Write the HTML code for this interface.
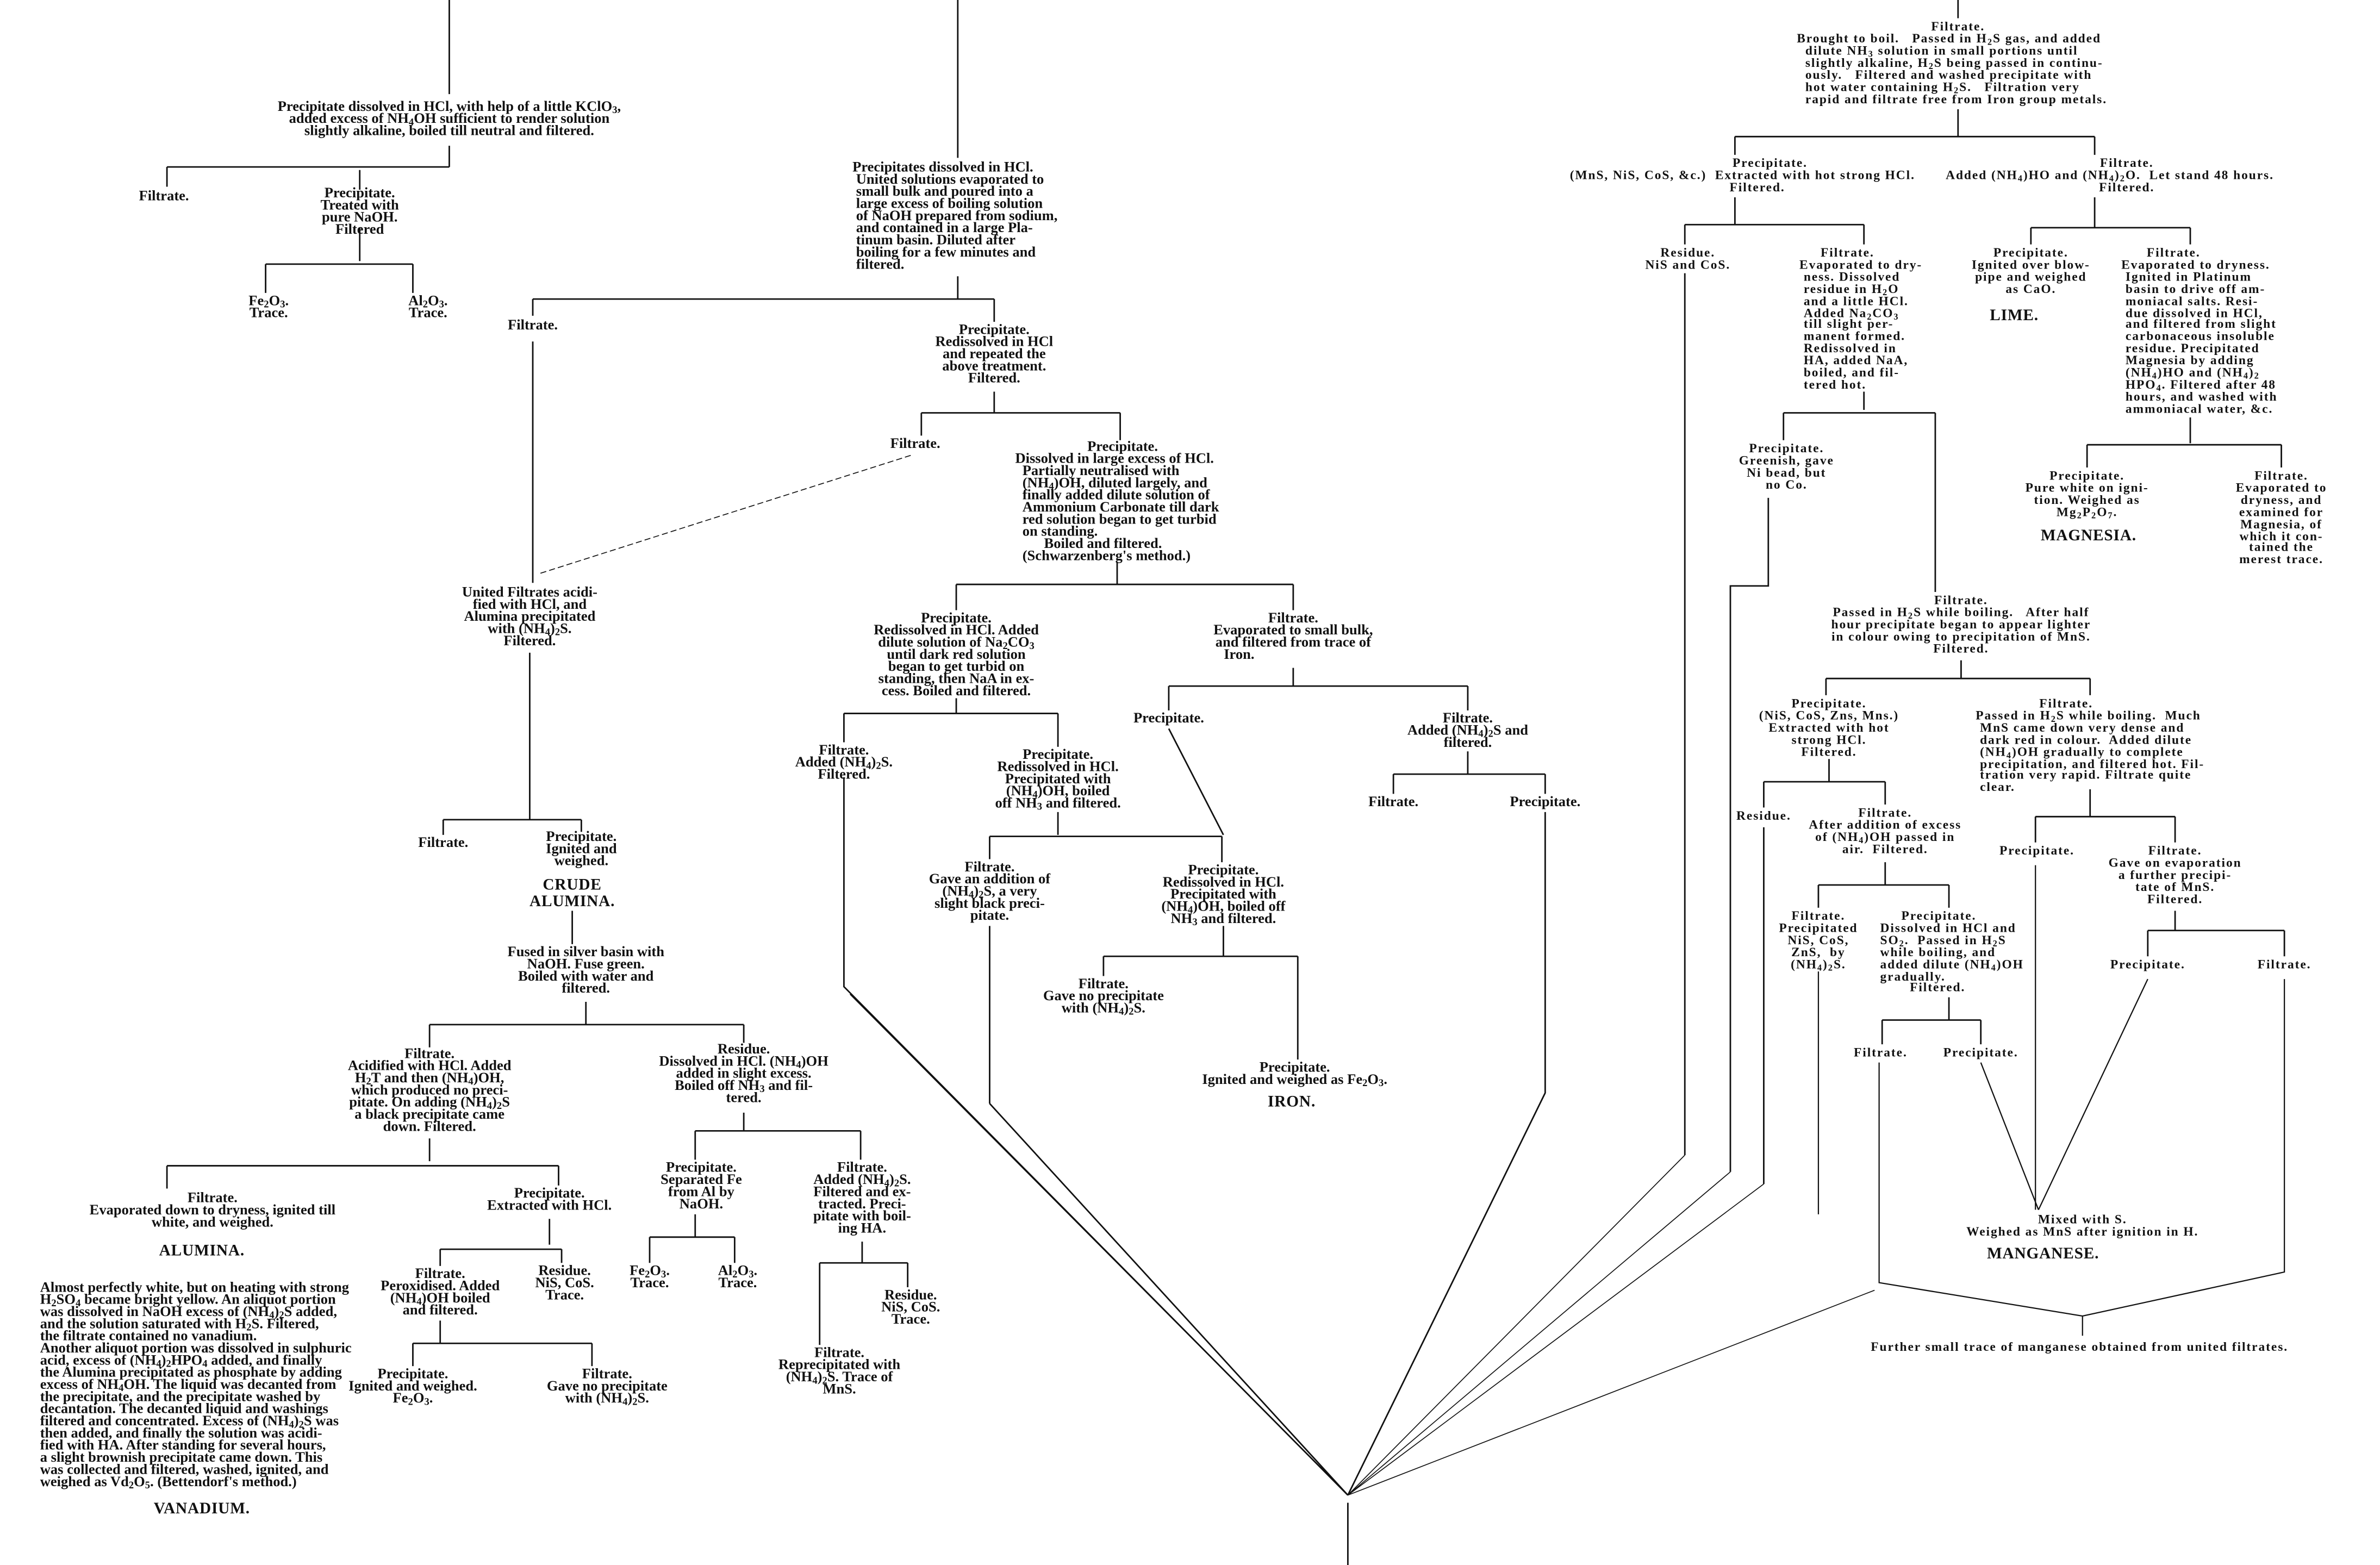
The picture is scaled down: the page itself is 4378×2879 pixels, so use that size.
<!DOCTYPE html>
<html><head><meta charset="utf-8"><style>
html,body{margin:0;padding:0;background:#fff;}
body{width:4378px;height:2879px;overflow:hidden;position:relative;}
#c{position:absolute;left:0;top:0;width:1568px;height:1031px;transform:scale(2.7921,2.7924);transform-origin:0 0;}
.t{position:absolute;transform:translateX(-50%);white-space:nowrap;text-align:center;color:#111;
font-family:"Liberation Serif",serif;font-weight:bold;font-size:9.5px;line-height:8px;letter-spacing:0px;}
.r{letter-spacing:0.7px;font-size:8.4px;line-height:7.9px;}
.h{font-size:10.5px;letter-spacing:0.3px;line-height:10.5px;}
.l{text-align:left;}
sub{font-size:70%;vertical-align:-1.5px;line-height:0;}
svg{position:absolute;left:0;top:0;}
</style></head><body><div id="c">
<svg width="1568" height="1031" viewBox="0 0 1568 1031" fill="none" stroke="#111" stroke-width="1">
<path d="M296 0V62M296 96V110M110 110H296M110 110V123M237 112V125M237 150V172M175 174H272M175 174V193M272 174V193"/>
<path d="M631 0V104M631 182V197M351 197H655M351 197V208M351 225V384M655 197V212M655 258V272M607 272H738M607 272V287M738 272V290"/>
<path d="M600 300L355 378" stroke-width="0.6" stroke-dasharray="4 2"/>
<path d="M349 430V540M292 540H383M292 540V550M383 540V548M377 600V622M386 660V675M283 675H490M283 675V690M490 675V687"/>
<path d="M283 750V765M110 768H368M110 768V783M368 768V781M362 803V820M290 823H370M290 823V834M370 823V832M290 870V885M272 885H390M272 885V900M390 885V900"/>
<path d="M490 733V745M458 745H567M458 745V764M567 745V764M458 800V815M428 815H484M428 815V832M484 815V832M568 818V832M540 832H598M540 832V886M598 832V848"/>
<path d="M736 370V385M630 385H852M630 385V402M852 385V402M630 460V470M556 470H697M556 470V489M697 470V492"/>
<path d="M697 535V550M652 551H805M652 551V566M805 551V568M806 610V630M727 630H855M727 630V643M855 630V698M652 610V727"/>
<path d="M852 440V452M770 452H967M770 452V468M967 452V468M770 480L806 550M967 495V510M918 510H1018M918 510V523M1018 510V523"/>
<path d="M556 512V650L888 985M652 727L888 985M1018 535V720L888 985M888 990V1031"/>
<path d="M560 655L888 985M1110 761L888 985M1140 772L888 985M1162 780L888 985M1235 850L888 985" stroke-width="0.6"/>
<path d="M1290 0V12M1290 72V90M1143 90H1380M1143 90V102M1380 90V102M1143 130V148M1110 148H1228M1110 148V161M1228 148V161M1110 180V761M1228 258V270M1175 272H1275M1175 272V290M1165 328V386H1140V772M1275 272V390"/>
<path d="M1380 130V150M1338 150H1443M1338 150V161M1443 150V161M1443 275V292M1375 293H1503M1375 293V308M1503 293V308"/>
<path d="M1292 435V447M1203 447H1377M1203 447V458M1377 447V458M1205 500V515M1162 515H1242M1162 515V532M1162 545V780M1242 515V530M1242 568V583M1198 583H1284M1198 583V598M1284 583V598M1284 657V672M1240 672H1305M1240 672V688M1305 672V688"/>
<path d="M1377 520V538M1341 538H1433M1341 538V555M1433 538V555M1433 600V613M1415 613H1505M1415 613V630M1505 613V630"/>
<path d="M1341 570V797M1415 645L1343 797M1305 700L1343 797M1238 700V845L1372 867L1505 838V645M1372 867V880M1198 640V800" stroke-width="0.8"/>
</svg>

<div class="t" style="left:296px;top:67px">Precipitate dissolved in HCl, with help of a little KClO<sub>3</sub>,<br>added excess of NH<sub>4</sub>OH sufficient to render solution<br>slightly alkaline, boiled till neutral and filtered.</div>
<div class="t" style="left:108px;top:126px">Filtrate.</div>
<div class="t" style="left:237px;top:124px">Precipitate.<br>Treated with<br>pure NaOH.<br>Filtered</div>
<div class="t" style="left:177px;top:195px">Fe<sub>2</sub>O<sub>3</sub>.<br>Trace.</div>
<div class="t" style="left:282px;top:195px">Al<sub>2</sub>O<sub>3</sub>.<br>Trace.</div>

<div class="t l" style="left:628px;top:107px">&nbsp;Precipitates dissolved in HCl.<br>&nbsp;&nbsp;United solutions evaporated to<br>&nbsp;&nbsp;small bulk and poured into a<br>&nbsp;&nbsp;large excess of boiling solution<br>&nbsp;&nbsp;of NaOH prepared from sodium,<br>&nbsp;&nbsp;and contained in a large Pla-<br>&nbsp;&nbsp;tinum basin. Diluted after<br>&nbsp;&nbsp;boiling for a few minutes and<br>&nbsp;&nbsp;filtered.</div>
<div class="t" style="left:351px;top:211px">Filtrate.</div>
<div class="t" style="left:655px;top:214px">Precipitate.<br>Redissolved in HCl<br>and repeated the<br>above treatment.<br>Filtered.</div>
<div class="t" style="left:603px;top:289px">Filtrate.</div>
<div class="t l" style="left:736px;top:291px">&nbsp;&nbsp;&nbsp;&nbsp;&nbsp;&nbsp;&nbsp;&nbsp;&nbsp;&nbsp;&nbsp;&nbsp;&nbsp;&nbsp;&nbsp;&nbsp;&nbsp;&nbsp;&nbsp;&nbsp;Precipitate.<br>Dissolved in large excess of HCl.<br>&nbsp;&nbsp;Partially neutralised with<br>&nbsp;&nbsp;(NH<sub>4</sub>)OH, diluted largely, and<br>&nbsp;&nbsp;finally added dilute solution of<br>&nbsp;&nbsp;Ammonium Carbonate till dark<br>&nbsp;&nbsp;red solution began to get turbid<br>&nbsp;&nbsp;on standing.<br>&nbsp;&nbsp;&nbsp;&nbsp;&nbsp;&nbsp;&nbsp;&nbsp;Boiled and filtered.<br>&nbsp;&nbsp;(Schwarzenberg's method.)</div>

<div class="t" style="left:349px;top:387px">United Filtrates acidi-<br>fied with HCl, and<br>Alumina precipitated<br>with (NH<sub>4</sub>)<sub>2</sub>S.<br>Filtered.</div>
<div class="t" style="left:292px;top:552px">Filtrate.</div>
<div class="t" style="left:383px;top:548px">Precipitate.<br>Ignited and<br>weighed.</div>
<div class="t h" style="left:377px;top:579px">CRUDE<br>ALUMINA.</div>
<div class="t" style="left:386px;top:624px">Fused in silver basin with<br>NaOH. Fuse green.<br>Boiled with water and<br>filtered.</div>
<div class="t" style="left:283px;top:691px">Filtrate.<br>Acidified with HCl. Added<br>H<sub>2</sub>T and then (NH<sub>4</sub>)OH,<br>which produced no preci-<br>pitate. On adding (NH<sub>4</sub>)<sub>2</sub>S<br>a black precipitate came<br>down. Filtered.</div>
<div class="t" style="left:490px;top:688px">Residue.<br>Dissolved in HCl. (NH<sub>4</sub>)OH<br>added in slight excess.<br>Boiled off NH<sub>3</sub> and fil-<br>tered.</div>
<div class="t" style="left:140px;top:786px">Filtrate.<br>Evaporated down to dryness, ignited till<br>white, and weighed.</div>
<div class="t h" style="left:133px;top:820px">ALUMINA.</div>
<div class="t l" style="left:129px;top:845px">Almost perfectly white, but on heating with strong<br>H<sub>2</sub>SO<sub>4</sub> became bright yellow. An aliquot portion<br>was dissolved in NaOH excess of (NH<sub>4</sub>)<sub>2</sub>S added,<br>and the solution saturated with H<sub>2</sub>S. Filtered,<br>the filtrate contained no vanadium.<br>Another aliquot portion was dissolved in sulphuric<br>acid, excess of (NH<sub>4</sub>)<sub>2</sub>HPO<sub>4</sub> added, and finally<br>the Alumina precipitated as phosphate by adding<br>excess of NH<sub>4</sub>OH. The liquid was decanted from<br>the precipitate, and the precipitate washed by<br>decantation. The decanted liquid and washings<br>filtered and concentrated. Excess of (NH<sub>4</sub>)<sub>2</sub>S was<br>then added, and finally the solution was acidi-<br>fied with HA. After standing for several hours,<br>a slight brownish precipitate came down. This<br>was collected and filtered, washed, ignited, and<br>weighed as Vd<sub>2</sub>O<sub>5</sub>. (Bettendorf's method.)</div>
<div class="t h" style="left:133px;top:990px">VANADIUM.</div>
<div class="t" style="left:362px;top:783px">Precipitate.<br>Extracted with HCl.</div>
<div class="t" style="left:290px;top:836px">Filtrate.<br>Peroxidised. Added<br>(NH<sub>4</sub>)OH boiled<br>and filtered.</div>
<div class="t" style="left:372px;top:834px">Residue.<br>NiS, CoS.<br>Trace.</div>
<div class="t" style="left:272px;top:902px">Precipitate.<br>Ignited and weighed.<br>Fe<sub>2</sub>O<sub>3</sub>.</div>
<div class="t" style="left:400px;top:902px">Filtrate.<br>Gave no precipitate<br>with (NH<sub>4</sub>)<sub>2</sub>S.</div>
<div class="t" style="left:462px;top:766px">Precipitate.<br>Separated Fe<br>from Al by<br>NaOH.</div>
<div class="t" style="left:568px;top:766px">Filtrate.<br>Added (NH<sub>4</sub>)<sub>2</sub>S.<br>Filtered and ex-<br>tracted. Preci-<br>pitate with boil-<br>ing HA.</div>
<div class="t" style="left:428px;top:834px">Fe<sub>2</sub>O<sub>3</sub>.<br>Trace.</div>
<div class="t" style="left:486px;top:834px">Al<sub>2</sub>O<sub>3</sub>.<br>Trace.</div>
<div class="t" style="left:553px;top:888px">Filtrate.<br>Reprecipitated with<br>(NH<sub>4</sub>)<sub>2</sub>S. Trace of<br>MnS.</div>
<div class="t" style="left:600px;top:850px">Residue.<br>NiS, CoS.<br>Trace.</div>

<div class="t" style="left:630px;top:404px">Precipitate.<br>Redissolved in HCl. Added<br>dilute solution of Na<sub>2</sub>CO<sub>3</sub><br>until dark red solution<br>began to get turbid on<br>standing, then NaA in ex-<br>cess. Boiled and filtered.</div>
<div class="t" style="left:852px;top:404px">Filtrate.<br>Evaporated to small bulk,<br>and filtered from trace of<br>Iron.&nbsp;&nbsp;&nbsp;&nbsp;&nbsp;&nbsp;&nbsp;&nbsp;&nbsp;&nbsp;&nbsp;&nbsp;&nbsp;&nbsp;&nbsp;&nbsp;&nbsp;&nbsp;&nbsp;&nbsp;&nbsp;&nbsp;&nbsp;&nbsp;&nbsp;&nbsp;&nbsp;&nbsp;&nbsp;&nbsp;</div>
<div class="t" style="left:556px;top:491px">Filtrate.<br>Added (NH<sub>4</sub>)<sub>2</sub>S.<br>Filtered.</div>
<div class="t" style="left:697px;top:494px">Precipitate.<br>Redissolved in HCl.<br>Precipitated with<br>(NH<sub>4</sub>)OH, boiled<br>off NH<sub>3</sub> and filtered.</div>
<div class="t" style="left:652px;top:568px">Filtrate.<br>Gave an addition of<br>(NH<sub>4</sub>)<sub>2</sub>S, a very<br>slight black preci-<br>pitate.</div>
<div class="t" style="left:806px;top:570px">Precipitate.<br>Redissolved in HCl.<br>Precipitated with<br>(NH<sub>4</sub>)OH, boiled off<br>NH<sub>3</sub> and filtered.</div>
<div class="t" style="left:727px;top:645px">Filtrate.<br>Gave no precipitate<br>with (NH<sub>4</sub>)<sub>2</sub>S.</div>
<div class="t" style="left:853px;top:700px">Precipitate.<br>Ignited and weighed as Fe<sub>2</sub>O<sub>3</sub>.</div>
<div class="t h" style="left:851px;top:722px">IRON.</div>
<div class="t" style="left:770px;top:470px">Precipitate.</div>
<div class="t" style="left:967px;top:470px">Filtrate.<br>Added (NH<sub>4</sub>)<sub>2</sub>S and<br>filtered.</div>
<div class="t" style="left:918px;top:525px">Filtrate.</div>
<div class="t" style="left:1018px;top:525px">Precipitate.</div>

<div class="t r" style="left:1290px;top:14px">Filtrate.</div>
<div class="t r l" style="left:1286px;top:22px">Brought to boil.&nbsp;&nbsp; Passed in H<sub>2</sub>S gas, and added<br>&nbsp;&nbsp;dilute NH<sub>3</sub> solution in small portions until<br>&nbsp;&nbsp;slightly alkaline, H<sub>2</sub>S being passed in continu-<br>&nbsp;&nbsp;ously.&nbsp;&nbsp; Filtered and washed precipitate with<br>&nbsp;&nbsp;hot water containing H<sub>2</sub>S.&nbsp;&nbsp; Filtration very<br>&nbsp;&nbsp;rapid and filtrate free from Iron group metals.</div>
<div class="t r" style="left:1148px;top:104px">&nbsp;&nbsp;&nbsp;&nbsp;&nbsp;&nbsp;&nbsp;&nbsp;&nbsp;&nbsp;&nbsp;&nbsp;&nbsp;Precipitate.<br>(MnS, NiS, CoS, &amp;c.)&nbsp; Extracted with hot strong HCl.<br>&nbsp;&nbsp;&nbsp;&nbsp;&nbsp;&nbsp;&nbsp;Filtered.</div>
<div class="t r" style="left:1390px;top:104px">&nbsp;&nbsp;&nbsp;&nbsp;&nbsp;&nbsp;&nbsp;&nbsp;Filtrate.<br>Added (NH<sub>4</sub>)HO and (NH<sub>4</sub>)<sub>2</sub>O.&nbsp; Let stand 48 hours.<br>&nbsp;&nbsp;&nbsp;&nbsp;&nbsp;&nbsp;&nbsp;&nbsp;Filtered.</div>
<div class="t r" style="left:1112px;top:163px">Residue.<br>NiS and CoS.</div>
<div class="t r l" style="left:1226px;top:163px">&nbsp;&nbsp;&nbsp;&nbsp;&nbsp;Filtrate.<br>Evaporated to dry-<br>&nbsp;ness. Dissolved<br>&nbsp;residue in H<sub>2</sub>O<br>&nbsp;and a little HCl.<br>&nbsp;Added Na<sub>2</sub>CO<sub>3</sub><br>&nbsp;till slight per-<br>&nbsp;manent formed.<br>&nbsp;Redissolved in<br>&nbsp;HA, added NaA,<br>&nbsp;boiled, and fil-<br>&nbsp;tered hot.</div>
<div class="t r" style="left:1177px;top:292px">Precipitate.<br>Greenish, gave<br>Ni bead, but<br>no Co.</div>
<div class="t r" style="left:1338px;top:163px">Precipitate.<br>Ignited over blow-<br>pipe and weighed<br>as CaO.</div>
<div class="t r h" style="left:1327px;top:204px">LIME.</div>
<div class="t r l" style="left:1449px;top:163px">&nbsp;&nbsp;&nbsp;&nbsp;&nbsp;&nbsp;Filtrate.<br>Evaporated to dryness.<br>&nbsp;Ignited in Platinum<br>&nbsp;basin to drive off am-<br>&nbsp;moniacal salts. Resi-<br>&nbsp;due dissolved in HCl,<br>&nbsp;and filtered from slight<br>&nbsp;carbonaceous insoluble<br>&nbsp;residue. Precipitated<br>&nbsp;Magnesia by adding<br>&nbsp;(NH<sub>4</sub>)HO and (NH<sub>4</sub>)<sub>2</sub><br>&nbsp;HPO<sub>4</sub>. Filtered after 48<br>&nbsp;hours, and washed with<br>&nbsp;ammoniacal water, &amp;c.</div>
<div class="t r" style="left:1375px;top:310px">Precipitate.<br>Pure white on igni-<br>tion. Weighed as<br>Mg<sub>2</sub>P<sub>2</sub>O<sub>7</sub>.</div>
<div class="t r h" style="left:1376px;top:349px">MAGNESIA.</div>
<div class="t r" style="left:1503px;top:310px">Filtrate.<br>Evaporated to<br>dryness, and<br>examined for<br>Magnesia, of<br>which it con-<br>tained the<br>merest trace.</div>
<div class="t r" style="left:1292px;top:392px">Filtrate.<br>Passed in H<sub>2</sub>S while boiling.&nbsp;&nbsp; After half<br>hour precipitate began to appear lighter<br>in colour owing to precipitation of MnS.<br>Filtered.</div>
<div class="t r" style="left:1205px;top:460px">Precipitate.<br>(NiS, CoS, Zns, Mns.)<br>Extracted with hot<br>strong HCl.<br>Filtered.</div>
<div class="t r l" style="left:1377px;top:460px">&nbsp;&nbsp;&nbsp;&nbsp;&nbsp;&nbsp;&nbsp;&nbsp;&nbsp;&nbsp;&nbsp;&nbsp;&nbsp;&nbsp;&nbsp;Filtrate.<br>Passed in H<sub>2</sub>S while boiling.&nbsp; Much<br>&nbsp;MnS came down very dense and<br>&nbsp;dark red in colour.&nbsp; Added dilute<br>&nbsp;(NH<sub>4</sub>)OH gradually to complete<br>&nbsp;precipitation, and filtered hot. Fil-<br>&nbsp;tration very rapid. Filtrate quite<br>&nbsp;clear.</div>
<div class="t r" style="left:1162px;top:534px">Residue.</div>
<div class="t r" style="left:1242px;top:532px">Filtrate.<br>After addition of excess<br>of (NH<sub>4</sub>)OH passed in<br>air.&nbsp; Filtered.</div>
<div class="t r" style="left:1198px;top:600px">Filtrate.<br>Precipitated<br>NiS, CoS,<br>ZnS,&nbsp; by<br>(NH<sub>4</sub>)<sub>2</sub>S.</div>
<div class="t r l" style="left:1286px;top:600px">&nbsp;&nbsp;&nbsp;&nbsp;&nbsp;Precipitate.<br>Dissolved in HCl and<br>SO<sub>2</sub>.&nbsp; Passed in H<sub>2</sub>S<br>while boiling, and<br>added dilute (NH<sub>4</sub>)OH<br>gradually.<br>&nbsp;&nbsp;&nbsp;&nbsp;&nbsp;&nbsp;&nbsp;Filtered.</div>
<div class="t r" style="left:1239px;top:690px">Filtrate.</div>
<div class="t r" style="left:1305px;top:690px">Precipitate.</div>
<div class="t r" style="left:1342px;top:557px">Precipitate.</div>
<div class="t r" style="left:1433px;top:557px">Filtrate.<br>Gave on evaporation<br>a further precipi-<br>tate of MnS.<br>Filtered.</div>
<div class="t r" style="left:1415px;top:632px">Precipitate.</div>
<div class="t r" style="left:1505px;top:632px">Filtrate.</div>
<div class="t r" style="left:1372px;top:800px">Mixed with S.<br>Weighed as MnS after ignition in H.</div>
<div class="t r h" style="left:1346px;top:822px">MANGANESE.</div>
<div class="t r" style="left:1370px;top:884px">Further small trace of manganese obtained from united filtrates.</div>
</div></body></html>
